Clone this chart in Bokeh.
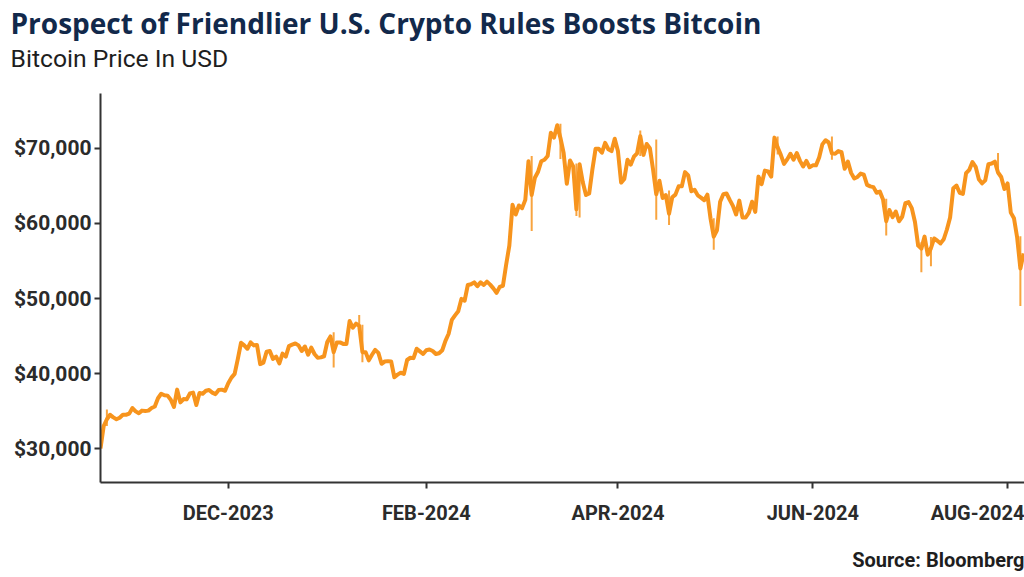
import pandas as pd
from bokeh.plotting import figure
from bokeh.models import Range1d, FixedTicker, NumeralTickFormatter, Title, ColumnDataSource
from bokeh.embed import file_html
from bokeh.resources import INLINE

# ---- data (daily BTC price, USD) ----
close_oct23 = [30000, 33000, 33900, 34500, 34150, 33900, 34100, 34500, 34500, 34650]
close_nov23 = [35400, 34950, 34700, 35050, 35000, 35050, 35400, 35600, 36700, 37300,
               37100, 37050, 36500, 35550, 37850, 36150, 36600, 36550, 37350, 37450,
               35800, 37400, 37300, 37700, 37800, 37450, 37250, 37800, 37850, 37700]
close_dec23 = [38700, 39450, 39950, 41950, 44100, 43750, 43300, 44150, 43750, 43800,
               41250, 41450, 42900, 43000, 41950, 42250, 41350, 42650, 42250, 43650,
               43850, 44000, 43750, 43000, 43600, 42500, 43450, 42600, 42100, 42150, 42300]
close_jan24 = [44200, 44950, 42850, 44150, 44150, 43950, 43950, 47000, 46100, 46650,
               46350, 42850, 42850, 41750, 42500, 43150, 42750, 41300, 41600, 41650,
               41600, 39500, 39850, 40100, 39950, 41800, 42100, 42050, 43300, 42950, 42600]
close_feb24 = [43100, 43200, 43000, 42600, 42700, 43100, 44350, 45300, 47150, 47750,
               48300, 49950, 49700, 51800, 51900, 52150, 51650, 52150, 51800, 52250,
               51850, 51350, 50750, 51550, 51700, 54500, 57050, 62500, 61200]
close_mar24 = [62400, 62050, 63150, 68300, 63800, 66100, 66900, 68300, 68500, 69000,
               72100, 71450, 73100, 71400, 69400, 65300, 68400, 67600, 61900, 67900,
               65500, 63800, 64000, 67200, 69950, 69950, 69450, 70750, 69900, 69650, 71300]
close_apr24 = [69650, 65450, 65950, 68500, 67850, 68900, 69350, 71650, 69150, 70600,
               70050, 67200, 63900, 65700, 63400, 63800, 61300, 63500, 63850, 64950,
               64950, 66850, 66400, 64300, 64500, 63750, 63450, 63100, 63850, 60650]
close_may24 = [58250, 59100, 62900, 63900, 64000, 63150, 62350, 61200, 63050, 60800,
               60800, 61450, 62900, 61550, 66250, 65250, 67050, 66950, 66250, 71450,
               70150, 69150, 67950, 68550, 69300, 68500, 69400, 68350, 67600, 68350, 67500]
close_jun24 = [67750, 67750, 68800, 70550, 71100, 70800, 69350, 69300, 69650, 69500,
               67300, 68250, 66750, 66000, 66200, 66650, 66500, 65150, 64950, 64850,
               64100, 64250, 63200, 60300, 61800, 60850, 61600, 60300, 60900, 62700]
close_jul24 = [62850, 62050, 60200, 57050, 56650, 58250, 55850, 56700, 58000, 57700,
               57350, 57900, 59200, 60800, 64700, 65050, 64100, 63950, 66700, 67150,
               68200, 67550, 65900, 65350, 65750, 67900, 68000, 68250, 66800, 66200, 64600]
close_aug24 = [65350, 61450, 60700, 58100, 54000, 56000]

# intraday extremes visible as spikes
spike_dates = ["2023-10-24", "2024-01-03", "2024-01-11", "2024-01-12", "2024-03-05",
               "2024-03-14", "2024-03-19", "2024-03-20", "2024-04-08", "2024-04-13",
               "2024-04-17", "2024-05-01", "2024-05-21", "2024-06-07", "2024-06-24",
               "2024-07-05", "2024-07-08", "2024-07-29", "2024-08-05"]
spike_low = [33000, 40800, 45600, 41500, 59000, 68600, 61000, 60800, 69000, 60500,
             59800, 56500, 69200, 68500, 58400, 53500, 54300, 66500, 49000]
spike_high = [35200, 45500, 47800, 46500, 69000, 73300, 68000, 68000, 72400, 71200,
              64400, 60700, 71600, 71600, 63300, 57500, 58200, 69400, 58300]

y_ticks = [30000, 40000, 50000, 60000, 70000]
x_tick_dates = ["2023-12-01", "2024-02-01", "2024-04-01", "2024-06-01", "2024-08-01"]
x_tick_labels = ["DEC-2023", "FEB-2024", "APR-2024", "JUN-2024", "AUG-2024"]

title_text = "Prospect of Friendlier U.S. Crypto Rules Boosts Bitcoin"
subtitle_text = "Bitcoin Price In USD"
source_text = "Source: Bloomberg"

# ---- build ----
price = (close_oct23 + close_nov23 + close_dec23 + close_jan24 + close_feb24 + close_mar24 +
         close_apr24 + close_may24 + close_jun24 + close_jul24 + close_aug24)
dates = pd.date_range("2023-10-22", periods=len(price), freq="D")
src = ColumnDataSource(dict(x=dates, y=price))
spk = ColumnDataSource(dict(x=pd.to_datetime(spike_dates), y0=spike_low, y1=spike_high))

ORANGE = "#f7941d"
AXIS = "#333333"

p = figure(width=1024, height=577, x_axis_type="datetime",
           output_backend="svg", toolbar_location=None,
           x_range=Range1d(pd.Timestamp("2023-10-22 00:00"), pd.Timestamp("2024-08-06 07:00")),
           y_range=Range1d(25467, 77333),
           min_border_left=100, min_border_right=0, min_border_top=0, min_border_bottom=95)
p.outline_line_color = None
p.grid.visible = False
p.background_fill_color = "white"
p.border_fill_color = "white"

p.segment(x0="x", y0="y0", x1="x", y1="y1", source=spk, line_color=ORANGE, line_width=2, line_alpha=0.85)
p.line("x", "y", source=src, line_color=ORANGE, line_width=4, line_join="round")

tick_ms = [pd.Timestamp(d).value // 10**6 for d in x_tick_dates]
p.xaxis.ticker = FixedTicker(ticks=tick_ms)
p.xaxis.major_label_overrides = {t: lab for t, lab in zip(tick_ms, x_tick_labels)}
p.yaxis.ticker = FixedTicker(ticks=y_ticks)
p.yaxis.formatter = NumeralTickFormatter(format="$0,0")

for ax in (p.xaxis, p.yaxis):
    ax.axis_line_color = AXIS
    ax.axis_line_width = 2
    ax.major_tick_line_color = AXIS
    ax.major_tick_line_width = 2
    ax.major_tick_out = 6
    ax.major_tick_in = 0
    ax.minor_tick_line_color = None
    ax.major_label_text_font = "Roboto"
    ax.major_label_text_font_style = "bold"
    ax.major_label_text_color = "#2b2b2b"
p.yaxis.major_label_text_font_size = "21px"
p.xaxis.major_label_text_font_size = "20px"
p.yaxis.major_label_standoff = 3
p.xaxis.major_label_standoff = 12

# stacked from the frame outward: spacer, subtitle, main title
p.add_layout(Title(text=" ", text_font_size="1px", standoff=14), "above")
p.add_layout(Title(text=subtitle_text, align="left", offset=-90, standoff=3,
                   vertical_align="top",
                   text_font="Roboto", text_font_style="normal", text_font_size="24.7px",
                   text_color="#1e1e1e"), "above")
p.add_layout(Title(text=title_text, align="left", offset=-90, standoff=2,
                   text_font="Open Sans", text_font_style="bold", text_font_size="28px",
                   text_color="#12294b"), "above")
p.add_layout(Title(text="\n" + source_text, align="right", offset=0, standoff=-12,
                   text_font="Roboto", text_font_style="bold", text_font_size="20px",
                   text_color="#1e1e1e"), "below")

open("out.html", "w").write(file_html(p, INLINE))
